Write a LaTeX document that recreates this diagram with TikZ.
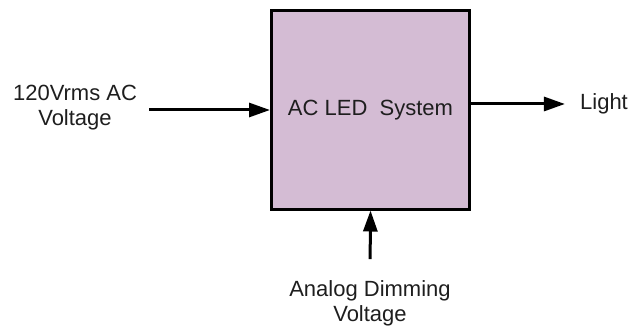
\documentclass[tikz,border=0pt]{standalone}
\usepackage{fontspec}
\setmainfont{Liberation Sans}
\usepackage{tikz}
\usetikzlibrary{arrows.meta}
\definecolor{sysfill}{RGB}{212,188,212}
\definecolor{txt}{RGB}{30,30,30}

\begin{document}
\begin{tikzpicture}[x=1pt,y=-1pt,
 every node/.style={font=\fontsize{22}{25}\selectfont,text=txt},
 sys/.style={rectangle,draw,line width=3pt,fill=sysfill,minimum size=198pt},
 lbl/.style={align=center,inner sep=3pt},
 arr/.style={line width=3pt,-{Triangle[length=21pt,width=14pt]}}]
\useasboundingbox (0,0) rectangle (629,326);
\node[sys] (S) at (370.5,110) {AC LED\ \ System};
\node[lbl] (In) at (75,108) {120Vrms AC\\Voltage};
\node[lbl] (L) at (604,104) {Light};
\node[lbl] (D) at (370,303) {Analog Dimming\\Voltage};
\draw[arr,shorten <=9pt] (In.east |- S.west) -- (S.west);
\draw[arr,shorten >=12pt] (S.east |- L.west) -- (L.west);
\draw[arr,shorten <=18pt] (D.north) -- (S.south);
\end{tikzpicture}
\end{document}
